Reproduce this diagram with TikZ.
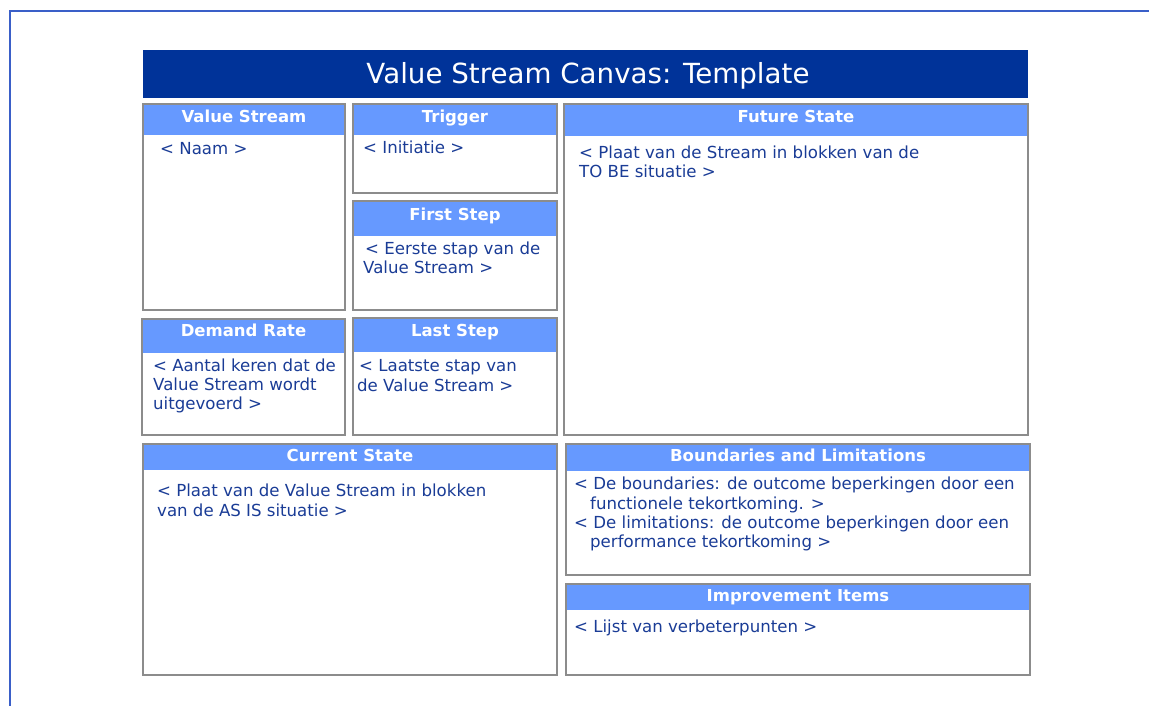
\documentclass[tikz,border=0pt]{standalone}
\usepackage{fontspec}
\setmainfont{DejaVu Sans}
\definecolor{titleblue}{HTML}{003399}
\definecolor{headblue}{HTML}{6699FF}
\definecolor{txtblue}{HTML}{1A3C96}
\definecolor{boxgray}{HTML}{8C8C8C}
\definecolor{framblue}{HTML}{3A5FC8}
\tikzset{
  boxline/.style={draw=boxgray, line width=1.6pt},
  headtext/.style={text=white, font=\bfseries\fontsize{16.5}{19}\selectfont, inner sep=0pt, anchor=base},
  body/.style={text=txtblue, font=\fontsize{16.6}{19.2}\selectfont, inner sep=0pt, align=left, anchor=base west},
}
% #1 name, #2 x1, #3 y1, #4 x2, #5 y2, #6 header bottom, #7 title baseline, #8 title
\newcommand\cvbox[8]{%
  \fill[white] (#2,#3) rectangle (#4,#5);
  \fill[headblue] (#2,#3) rectangle (#4,#6);
  \draw[boxline] (#2,#3) rectangle (#4,#5);
  \node[headtext] (#1) at ({(#2+#4)/2},#7) {#8};
}
\begin{document}
\begin{tikzpicture}[x=1pt,y=-1pt]
\useasboundingbox (0,0) rectangle (1149,706);
\fill[white] (0,0) rectangle (1149,706);
% outer frame
\coordinate (fbl) at (10,706);
\coordinate (ftl) at (10,11);
\coordinate (ftr) at (1149,11);
\draw[framblue, line width=1.5pt] (fbl) -- (ftl) -- (ftr);
% title
\fill[titleblue] (143,50) rectangle (1028,98);
\node[text=white, font=\fontsize{27.7}{30}\selectfont, inner sep=0pt, anchor=base] (title) at (588,83.5) {Value Stream Canvas: Template};
% boxes
\cvbox{vs}{143}{104}{345}{310}{135}{122.5}{Value Stream}
\cvbox{trig}{353}{104}{557}{193}{135}{122.5}{Trigger}
\cvbox{first}{353}{201}{557}{310}{236}{220}{First Step}
\cvbox{demand}{142}{319}{345}{435}{353}{336.5}{Demand Rate}
\cvbox{last}{353}{318}{557}{435}{352}{336}{Last Step}
\cvbox{future}{564}{104}{1028}{435}{136}{123}{Future State}
\cvbox{current}{143}{444}{557}{675}{470}{461}{Current State}
\cvbox{bound}{566}{444}{1030}{575}{471}{461.5}{Boundaries and Limitations}
\cvbox{impr}{566}{584}{1030}{675}{610}{601.5}{Improvement Items}
% texts (anchor = baseline of the last line)
\node[body] (vs-t) at (160,155) {< Naam >};
\node[body] (trig-t) at (363,153.5) {< Initiatie >};
\node[body] (first-t) at (365,273.5) {< Eerste stap van de\\\hspace*{-2pt}Value Stream >};
\node[body] (future-t) at (579,178) {< Plaat van de Stream in blokken van de\\TO BE situatie >};
\node[body] (demand-t) at (153,409.5) {< Aantal keren dat de\\Value Stream wordt\\uitgevoerd >};
\node[body] (last-t) at (359,391) {< Laatste stap van\\\hspace*{-2pt}de Value Stream >};
\node[body] (current-t) at (157,516) {< Plaat van de Value Stream in blokken\\van de AS IS situatie >};
\node[body] (bound-t) at (574,547.5) {< De boundaries: de outcome beperkingen door een\\\hspace*{16pt}functionele tekortkoming. >\\< De limitations: de outcome beperkingen door een\\\hspace*{16pt}performance tekortkoming >};
\node[body] (impr-t) at (574,632) {< Lijst van verbeterpunten >};
\end{tikzpicture}
\end{document}
